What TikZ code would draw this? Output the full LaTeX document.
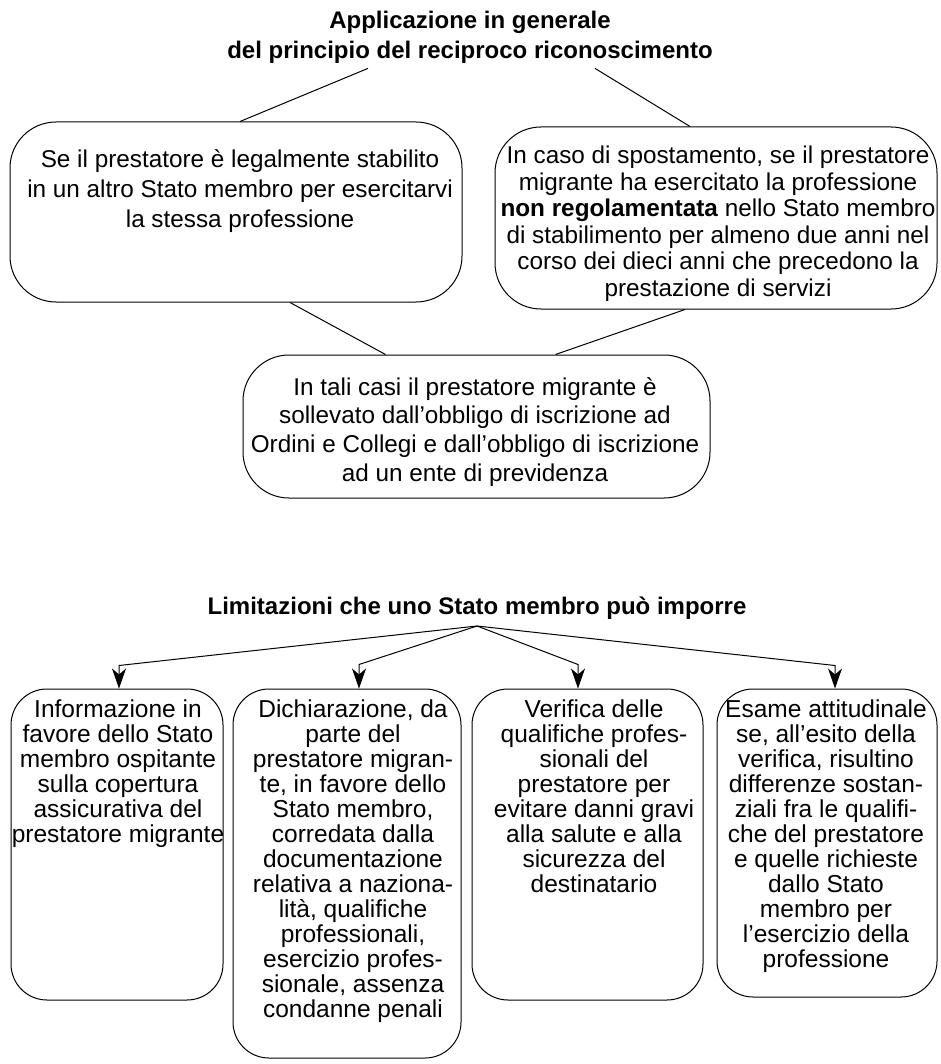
\documentclass[tikz,border=0pt]{standalone}
\usepackage{fontspec}
\setmainfont{Liberation Sans}
\usetikzlibrary{arrows.meta}
\begin{document}
\begin{tikzpicture}[x=1pt,y=-1pt,
  box/.style={draw, line width=1pt, rounded corners=46pt, inner sep=0pt},
  lbox/.style={draw, line width=1pt, rounded corners=36pt, inner sep=0pt},
  txt/.style={align=center, inner sep=0pt, anchor=north},
  ltxt/.style={align=center, inner sep=0pt, anchor=north, font=\fontsize{24.5}{25}\selectfont},
  head/.style={align=center, inner sep=0pt, font=\fontsize{24}{30}\selectfont\bfseries},
  link/.style={line width=1pt},
  arr/.style={line width=1pt, -{Stealth[length=20pt,width=14pt,inset=6pt]}}]
\useasboundingbox (0,0) rectangle (940,1064);

\node[head] (app) at (470,37) {Applicazione in generale\\del principio del reciproco riconoscimento};
\node[box, minimum width=452pt, minimum height=180pt] (stab) at (236,212) {};
\node[box, minimum width=442pt, minimum height=182pt] (spost) at (716,218) {};
\node[box, minimum width=467pt, minimum height=143pt] (eson) at (476.5,426.5) {};
\node[txt, font=\fontsize{24.3}{30}\selectfont] (stab-t) at (240,149) {Se il prestatore è legalmente stabilito\\in un altro Stato membro per esercitarvi\\la stessa professione};
\node[txt, font=\fontsize{24.3}{26.5}\selectfont] (spost-t) at (718,146) {In caso di spostamento, se il prestatore\\migrante ha esercitato la professione\\\textbf{non regolamentata} nello Stato membro\\di stabilimento per almeno due anni nel\\corso dei dieci anni che precedono la\\prestazione di servizi};
\node[txt, font=\fontsize{24.3}{28.7}\selectfont] (eson-t) at (475,377) {In tali casi il prestatore migrante è\\sollevato dall’obbligo di iscrizione ad\\Ordini e Collegi e dall’obbligo di iscrizione\\ad un ente di previdenza};
\draw[link] ([xshift=-102pt,yshift=-5pt]app.south) -- ([xshift=4pt]stab.north);
\draw[link] ([xshift=125pt,yshift=-5pt]app.south) -- ([xshift=-26pt]spost.north);
\draw[link] ([xshift=54pt]stab.south) -- ([xshift=-91pt]eson.north);
\draw[link] ([xshift=-31pt]spost.south) -- ([xshift=79pt]eson.north);

\node[head] (lim) at (477,608) {Limitazioni che uno Stato membro può imporre};
\coordinate (src) at (477,626);
\node[lbox, minimum width=212pt, minimum height=311pt] (info) at (117,844.5) {};
\node[lbox, minimum width=228pt, minimum height=369pt] (dich) at (347,873.5) {};
\node[lbox, minimum width=231pt, minimum height=311pt] (veri) at (587.5,844.5) {};
\node[lbox, minimum width=220pt, minimum height=308pt] (esame) at (827,843) {};
\node[ltxt] (info-t) at (118,700) {Informazione in\\favore dello Stato\\membro ospitante\\sulla copertura\\assicurativa del\\prestatore migrante};
\node[ltxt] (dich-t) at (353,700) {Dichiarazione, da\\parte del\\prestatore migran-\\te, in favore dello\\Stato membro,\\corredata dalla\\documentazione\\relativa a naziona-\\lità, qualifiche\\professionali,\\esercizio profes-\\sionale, assenza\\condanne penali};
\node[ltxt] (veri-t) at (594,700) {Verifica delle\\qualifiche profes-\\sionali del\\prestatore per\\evitare danni gravi\\alla salute e alla\\sicurezza del\\destinatario};
\node[ltxt] (esame-t) at (826,700) {Esame attitudinale\\se, all’esito della\\verifica, risultino\\differenze sostan-\\ziali fra le qualifi-\\che del prestatore\\e quelle richieste\\dallo Stato\\membro per\\l’esercizio della\\professione};
\draw[arr] (src) -- ([xshift=2pt,yshift=23pt]info.north) -- ([xshift=2pt]info.north);
\draw[arr] (src) -- ([xshift=12pt,yshift=24pt]dich.north) -- ([xshift=12pt]dich.north);
\draw[arr] (src) -- ([xshift=-9.5pt,yshift=24pt]veri.north) -- ([xshift=-9.5pt]veri.north);
\draw[arr] (src) -- ([xshift=8pt,yshift=23pt]esame.north) -- ([xshift=8pt]esame.north);
\end{tikzpicture}
\end{document}
